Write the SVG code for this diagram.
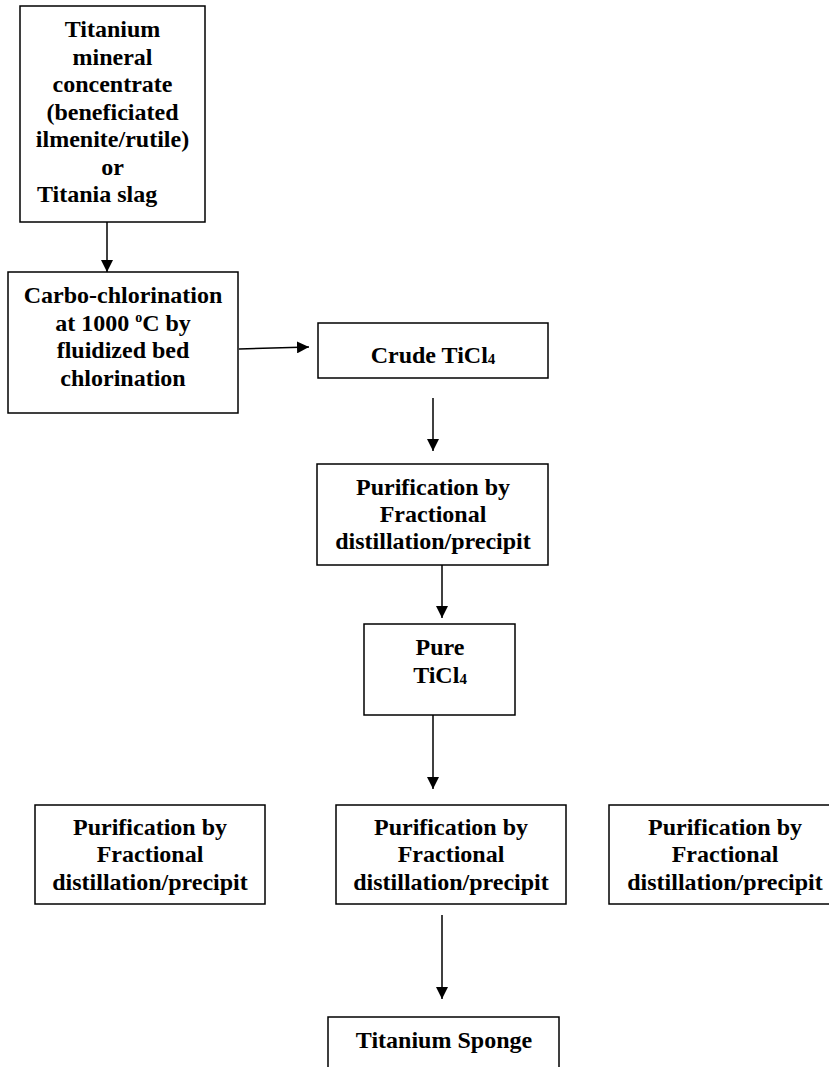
<svg xmlns="http://www.w3.org/2000/svg" width="829" height="1067" viewBox="0 0 829 1067">
<defs>
<style>
.box{fill:#fff;stroke:#000;stroke-width:1.5}
.t{font-family:"Liberation Serif","Times New Roman",serif;font-weight:bold;font-size:24px;fill:#000;text-anchor:middle}
.l{text-anchor:start}
.sub{font-size:15px}
.sup{font-size:14px}
.c{stroke:#000;stroke-width:1.5;fill:none;marker-end:url(#ah)}
</style>
<marker id="ah" markerUnits="userSpaceOnUse" markerWidth="12" markerHeight="12" refX="12" refY="6" orient="auto">
<path d="M0,0 L12,6 L0,12 z" fill="#000"/>
</marker>
</defs>
<rect width="829" height="1067" fill="#fff"/>
<g id="connectors">
<line class="c" x1="107" y1="222" x2="107" y2="272"/>
<line class="c" x1="239" y1="349" x2="309" y2="347"/>
<line class="c" x1="433" y1="398" x2="433" y2="451"/>
<line class="c" x1="442" y1="565" x2="442" y2="618"/>
<line class="c" x1="433" y1="715" x2="433" y2="789"/>
<line class="c" x1="442" y1="915" x2="442" y2="999"/>
</g>
<g id="n-mineral">
<rect class="box" x="20" y="6" width="185" height="216"/>
<text class="t" x="112.5" y="37">Titanium</text>
<text class="t" x="112.5" y="64.5">mineral</text>
<text class="t" x="112.5" y="92">concentrate</text>
<text class="t" x="112.5" y="119.5">(beneficiated</text>
<text class="t" x="112.5" y="147">ilmenite/rutile)</text>
<text class="t" x="112.5" y="174.5">or</text>
<text class="t l" x="37" y="202">Titania slag</text>
</g>
<g id="n-carbo">
<rect class="box" x="8" y="272" width="230" height="141"/>
<text class="t" x="123" y="303">Carbo-chlorination</text>
<text class="t" x="123" y="331">at 1000 <tspan class="sup" dy="-9">o</tspan><tspan dy="9">C by</tspan></text>
<text class="t" x="123" y="358">fluidized bed</text>
<text class="t" x="123" y="386">chlorination</text>
</g>
<g id="n-crude">
<rect class="box" x="318" y="323" width="230" height="55"/>
<text class="t" x="433" y="363">Crude TiCl<tspan class="sub" dy="1">4</tspan></text>
</g>
<g id="n-purif1">
<rect class="box" x="317" y="464" width="231" height="101"/>
<text class="t" x="433" y="495">Purification by</text>
<text class="t" x="433" y="522">Fractional</text>
<text class="t" x="433" y="549">distillation/precipit</text>
</g>
<g id="n-pure">
<rect class="box" x="364" y="624" width="151" height="91"/>
<text class="t" x="440" y="655">Pure</text>
<text class="t" x="440" y="683">TiCl<tspan class="sub" dy="1">4</tspan></text>
</g>
<g id="n-purif-left">
<rect class="box" x="35" y="805" width="230" height="99"/>
<text class="t" x="150" y="835">Purification by</text>
<text class="t" x="150" y="862">Fractional</text>
<text class="t" x="150" y="890">distillation/precipit</text>
</g>
<g id="n-purif-mid">
<rect class="box" x="336" y="805" width="230" height="99"/>
<text class="t" x="451" y="835">Purification by</text>
<text class="t" x="451" y="862">Fractional</text>
<text class="t" x="451" y="890">distillation/precipit</text>
</g>
<g id="n-purif-right">
<rect class="box" x="609" y="805" width="230" height="99"/>
<text class="t" x="725" y="835">Purification by</text>
<text class="t" x="725" y="862">Fractional</text>
<text class="t" x="725" y="890">distillation/precipit</text>
</g>
<g id="n-sponge">
<rect class="box" x="328" y="1017" width="231" height="60"/>
<text class="t" x="444" y="1048">Titanium Sponge</text>
</g>
</svg>
